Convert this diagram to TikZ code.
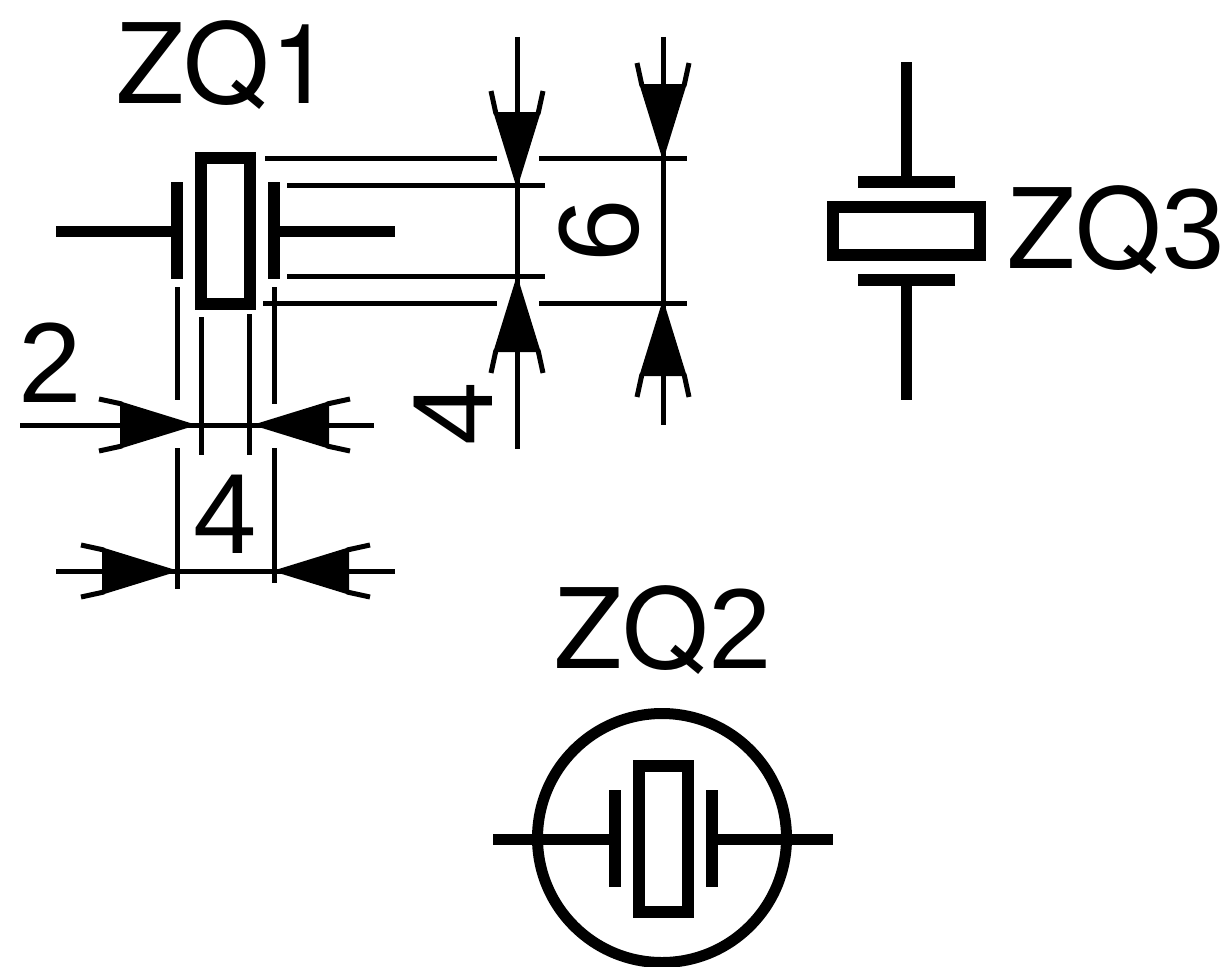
\documentclass[tikz,border=0pt]{standalone}
\usepackage{fontspec}
\setmainfont{TeX Gyre Heros}
\newfontfamily\digitfont{Liberation Sans}
\newcommand{\lbl}{\fontsize{111}{120}\selectfont}
\newcommand{\dgt}[1]{{\digitfont\fontsize{114}{120}\selectfont #1}}
\tikzset{
  heavy/.style={line width=11pt},
  thin dim/.style={line width=5pt},
  crystal/.style={draw,line width=12pt,inner sep=0pt,minimum width=49pt,minimum height=146pt},
  caption/.style={inner sep=0pt,anchor=base,font=\lbl},
  dimtip/.pic={
    \filldraw[line width=4pt,line join=round] (-3,0) -- (-71,21) -- (-71,-21) -- cycle;
    \draw[line width=5pt] (-71,21) -- (-94,26) (-71,-21) -- (-94,-26);
  }
}
\begin{document}
\begin{tikzpicture}[x=1pt,y=-1pt]
  \useasboundingbox (0,0) rectangle (1230,966);
  % first crystal with its dimensions
  \node (zq1) [crystal] at (225.5,231) {};
  \node (labelzq1) [caption] at (224,103) {ZQ1};
  \coordinate (zq1l) at (177,231);
  \coordinate (zq1r) at (274,231);
  \coordinate (zq1a) at (56,231);
  \coordinate (zq1b) at (395,231);
  \draw[heavy] (zq1a) -- (zq1l) (zq1r) -- (zq1b);
  \draw[line width=12pt] (177,182) -- (177,279) (274,182) -- (274,279);
  \draw[thin dim]
    (265,158) -- (497,158) (539,158) -- (687,158)
    (263,303) -- (497,303) (539,303) -- (687,303)
    (287,185) -- (545,185) (287,276) -- (545,276)
    (517,37) -- (517,449) (663,37) -- (663,425)
    (177,287) -- (177,400) (177,448) -- (177,589)
    (274,287) -- (274,404) (274,448) -- (274,583)
    (201,317) -- (201,455) (249.5,314) -- (249.5,455)
    (20,425) -- (374,425) (56,571) -- (395,571);
  \pic at (193,425) {dimtip};
  \pic[rotate=180] at (256,425) {dimtip};
  \pic at (175,571) {dimtip};
  \pic[rotate=180] at (276,571) {dimtip};
  \pic[rotate=-90] at (517,185) {dimtip};
  \pic[rotate=90] at (517,279) {dimtip};
  \pic[rotate=-90] at (663,157) {dimtip};
  \pic[rotate=90] at (663,303) {dimtip};
  \node (dima) [caption] at (50,402) {\dgt{2}};
  \node (dimb) [caption] at (225,553) {\dgt{4}};
  \node (dimc) [caption,rotate=90] at (492,414) {\dgt{4}};
  \node (dimd) [caption,rotate=90] at (638,231) {\dgt{6}};
  % second crystal in its can
  \node (zq2) [crystal] at (663,839) {};
  \node (labelzq2) [caption] at (663.5,668) {ZQ\dgt{2}};
  \node (can) [draw,circle,line width=11pt,inner sep=0pt,minimum size=249pt] at (662,838) {};
  \coordinate (zq2l) at (615,839);
  \coordinate (zq2r) at (712,839);
  \coordinate (zq2a) at (493,839);
  \coordinate (zq2b) at (833,839);
  \draw[heavy] (zq2a) -- (zq2l) (zq2r) -- (zq2b);
  \draw[line width=12pt] (615,790) -- (615,887) (712,790) -- (712,887);
  % third crystal on its side
  \node (zq3) [crystal,minimum width=147pt,minimum height=48pt] at (906.5,231) {};
  \node (labelzq3) [caption] at (1116,268) {ZQ\dgt{3}};
  \coordinate (zq3t) at (906,182);
  \coordinate (zq3u) at (906,280);
  \coordinate (zq3a) at (906,62);
  \coordinate (zq3b) at (906,400);
  \draw[heavy] (zq3a) -- (zq3t) (zq3u) -- (zq3b);
  \draw[line width=12pt] (858,182) -- (955,182) (858,280) -- (955,280);
\end{tikzpicture}
\end{document}
